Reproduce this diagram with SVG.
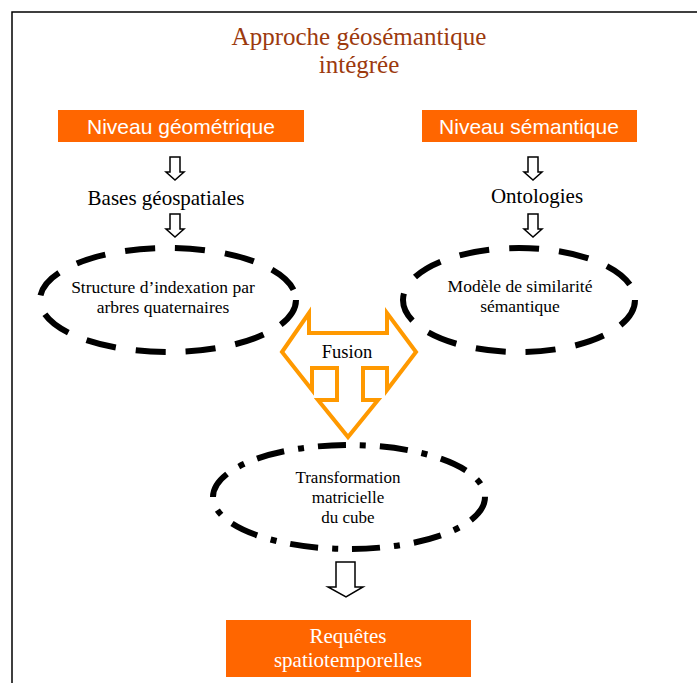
<svg xmlns="http://www.w3.org/2000/svg" width="697" height="683" viewBox="0 0 697 683">
<style>
.serif{font-family:"Liberation Serif","Times New Roman",serif;fill:#000;text-anchor:middle}
.sans{font-family:"Liberation Sans",Arial,sans-serif;fill:#fff;text-anchor:middle}
.box{fill:#FF6600}
.dash{fill:none;stroke:#000;stroke-width:6;stroke-dasharray:30 20}
.dashdot{fill:none;stroke:#000;stroke-width:6;stroke-dasharray:28 14 6 14}
.harrow{fill:#fff;stroke:#000;stroke-width:1.5;stroke-linejoin:miter}
</style>
<defs>
<path id="sa" d="M-5,0 H5 V15 H9 L0,23 L-9,15 H-5 Z"/>
</defs>
<rect width="697" height="683" fill="#fff"/>
<rect x="12" y="12" width="700" height="700" fill="none" stroke="#000" stroke-width="1.5"/>
<g id="title">
<text class="serif" x="359" y="45" font-size="25" style="fill:#9C3A0E">Approche géosémantique</text>
<text class="serif" x="359" y="73" font-size="25" style="fill:#9C3A0E">intégrée</text>
</g>
<g id="niveau-geo">
<rect class="box" x="58" y="110" width="246" height="32"/>
<text class="sans" x="181" y="134" font-size="21">Niveau géométrique</text>
</g>
<g id="niveau-sem">
<rect class="box" x="422" y="110" width="215" height="32"/>
<text class="sans" x="529" y="134" font-size="21">Niveau sémantique</text>
</g>
<g id="bases">
<text class="serif" x="166" y="205" font-size="21">Bases géospatiales</text>
</g>
<g id="ontologies">
<text class="serif" x="537" y="203" font-size="21">Ontologies</text>
</g>
<g id="structure">
<ellipse class="dash" cx="168" cy="300" rx="128" ry="52"/>
<text class="serif" x="163" y="293" font-size="17.5">Structure d’indexation par</text>
<text class="serif" x="163" y="313" font-size="17.5">arbres quaternaires</text>
</g>
<g id="modele">
<ellipse class="dash" cx="519" cy="300" rx="116" ry="52"/>
<text class="serif" x="520" y="292" font-size="17.5">Modèle de similarité</text>
<text class="serif" x="520" y="312" font-size="17.5">sémantique</text>
</g>
<g id="fusion">
<path d="M282,352 L309,313 V333 H387 V313 L416,352 L387,390 V368 H363 V400 H378 L348,437 L318,400 H337 V368 H312 V390 Z" fill="#fff" stroke="#FF9900" stroke-width="4" stroke-linejoin="miter"/>
<text class="serif" x="347" y="358" font-size="18.5">Fusion</text>
</g>
<g id="transformation">
<ellipse class="dashdot" cx="349" cy="497" rx="136" ry="52"/>
<text class="serif" x="348" y="483" font-size="17">Transformation</text>
<text class="serif" x="348" y="503" font-size="17">matricielle</text>
<text class="serif" x="348" y="523" font-size="17">du cube</text>
</g>
<g id="requetes">
<rect class="box" x="226" y="620" width="245" height="57"/>
<text class="serif" x="348" y="643" font-size="21" style="fill:#fff">Requêtes</text>
<text class="serif" x="348" y="667" font-size="21" style="fill:#fff">spatiotemporelles</text>
</g>
<g id="connectors">
<use href="#sa" class="harrow" x="175" y="157"/>
<use href="#sa" class="harrow" x="175" y="214"/>
<use href="#sa" class="harrow" x="533" y="157"/>
<use href="#sa" class="harrow" x="533" y="214"/>
<path class="harrow" d="M336,562 H355 V587 H363 L346,597 L328,587 H336 Z"/>
</g>
</svg>
